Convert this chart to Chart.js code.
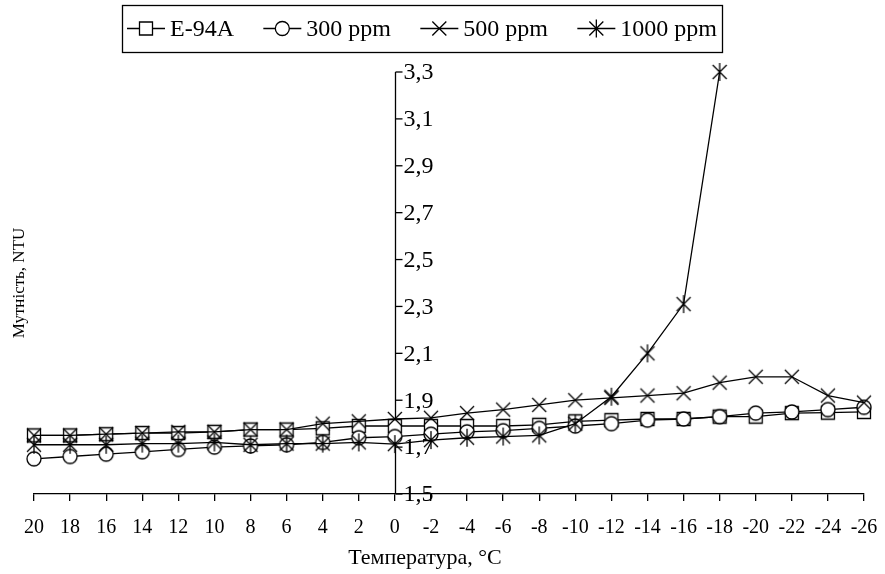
<!DOCTYPE html>
<html><head><meta charset="utf-8">
<script src="https://cdn.jsdelivr.net/npm/chart.js@4.4.1/dist/chart.umd.min.js"></script>
<style>html,body{margin:0;padding:0;background:#fff}#wrap{width:885px;height:574px;position:relative}</style>
</head><body><div id="wrap"><canvas id="c" width="885" height="574"></canvas></div>
<script>
const categories = ['20','18','16','14','12','10','8','6','4','2','0','-2','-4','-6','-8','-10','-12','-14','-16','-18','-20','-22','-24','-26'];
const e94a   = [1.75,1.75,1.755,1.76,1.76,1.765,1.775,1.775,1.78,1.79,1.79,1.79,1.79,1.79,1.795,1.81,1.815,1.82,1.82,1.83,1.83,1.845,1.847,1.85];
const ppm300 = [1.65,1.66,1.67,1.68,1.69,1.70,1.705,1.71,1.72,1.74,1.745,1.755,1.765,1.77,1.78,1.79,1.80,1.815,1.82,1.83,1.845,1.85,1.86,1.87];
const ppm500 = [1.75,1.75,1.755,1.76,1.765,1.765,1.775,1.775,1.80,1.81,1.82,1.825,1.845,1.86,1.88,1.90,1.91,1.92,1.93,1.975,2.0,2.0,1.92,1.89];
const ppm1000= [1.71,1.71,1.71,1.715,1.715,1.72,1.71,1.715,1.715,1.72,1.713,1.73,1.74,1.745,1.75,1.80,1.915,2.10,2.31,3.3];
const seriesNames = ['E-94A','300 ppm','500 ppm','1000 ppm'];
const yTicks = [1.5,1.7,1.9,2.1,2.3,2.5,2.7,2.9,3.1,3.3];
const xTitle = 'Температура, °C';
const yTitle = 'Мутність, NTU';
const yAxisAtCategory = '0';

const FONT = 'Liberation Serif';
const LW = 1.3;

function drawMarker(ctx, kind, x, y) {
  ctx.save();
  ctx.lineWidth = LW; ctx.strokeStyle = '#000'; ctx.fillStyle = '#fff';
  ctx.beginPath();
  if (kind === 'rect') { ctx.rect(x-6.5, y-6.5, 13, 13); ctx.fill(); ctx.stroke(); }
  else if (kind === 'circle') { ctx.arc(x, y, 7, 0, Math.PI*2); ctx.fill(); ctx.stroke(); }
  else if (kind === 'x') { ctx.moveTo(x-7,y-7); ctx.lineTo(x+7,y+7); ctx.moveTo(x+7,y-7); ctx.lineTo(x-7,y+7); ctx.stroke(); }
  else if (kind === 'star') { ctx.moveTo(x-7,y-7); ctx.lineTo(x+7,y+7); ctx.moveTo(x+7,y-7); ctx.lineTo(x-7,y+7); ctx.moveTo(x,y-9); ctx.lineTo(x,y+9); ctx.stroke(); }
  ctx.restore();
}
function markerCanvas(kind) {
  const c = document.createElement('canvas'); c.width = 22; c.height = 22;
  drawMarker(c.getContext('2d'), kind, 11, 11);
  return c;
}
const markerKinds = ['rect','circle','x','star'];
const markerImgs = markerKinds.map(markerCanvas);

function ds(label, data, i) {
  return {
    label, data, borderColor:'#000', borderWidth:LW, backgroundColor:'#fff',
    pointStyle: markerImgs[i], pointRadius: 9, pointHoverRadius: 9,
    tension: 0, clip: false, order: 4 - i
  };
}

const decor = {
  id: 'decor',
  beforeDatasetsDraw(chart) {
    const ctx = chart.ctx, xs = chart.scales.x, ys = chart.scales.y;
    const ax = Math.round(xs.getPixelForValue(categories.indexOf(yAxisAtCategory))) + 0.5;
    ctx.save();
    ctx.strokeStyle = '#000'; ctx.lineWidth = LW;
    ctx.beginPath();
    ctx.moveTo(ax, ys.getPixelForValue(yTicks[yTicks.length-1]));
    ctx.lineTo(ax, ys.getPixelForValue(yTicks[0]));
    ctx.stroke();
    ctx.font = '24px "' + FONT + '"'; ctx.fillStyle = '#000';
    ctx.textAlign = 'left'; ctx.textBaseline = 'middle';
    ys.ticks.forEach(t => {
      const py = ys.getPixelForValue(t.value);
      ctx.beginPath(); ctx.moveTo(ax, py); ctx.lineTo(ax + 7, py); ctx.stroke();
      ctx.fillText(t.value.toFixed(1).replace('.', ','), ax + 8, py + 1);
    });
    ctx.restore();
  },
  afterDraw(chart) {
    const ctx = chart.ctx, area = chart.chartArea;
    ctx.save();
    ctx.fillStyle = '#000';
    ctx.font = '22px "' + FONT + '"';
    ctx.textAlign = 'center'; ctx.textBaseline = 'middle';
    ctx.fillText(xTitle, 425, 558);
    ctx.translate(20, (area.top + area.bottom) / 2);
    ctx.rotate(-Math.PI / 2);
    ctx.font = '17px "' + FONT + '"';
    ctx.fillText(yTitle, 0, 0);
    ctx.restore();
    // legend
    ctx.save();
    ctx.font = '24px "' + FONT + '"';
    const boxL = 122, boxR = 722, top = 5, h = 47, cy = top + h / 2;
    const symW = 38, gapA = 5, pad = 5;
    const names = chart.data.datasets.map(d => d.label);
    let used = pad * 2;
    names.forEach(n => { used += symW + gapA + ctx.measureText(n).width; });
    const gapB = (boxR - boxL - used) / (names.length - 1);
    ctx.strokeStyle = '#000'; ctx.lineWidth = LW;
    ctx.strokeRect(boxL + 0.5, top + 0.5, boxR - boxL, h);
    let x = boxL + pad;
    ctx.textAlign = 'left'; ctx.textBaseline = 'middle'; ctx.fillStyle = '#000';
    names.forEach((n, i) => {
      ctx.beginPath(); ctx.moveTo(x, cy); ctx.lineTo(x + symW, cy); ctx.stroke();
      drawMarker(ctx, markerKinds[i], x + symW / 2, cy);
      x += symW + gapA;
      ctx.fillStyle = '#000';
      ctx.fillText(n, x, cy + 1);
      x += ctx.measureText(n).width + gapB;
    });
    ctx.restore();
  }
};

new Chart(document.getElementById('c'), {
  type: 'line',
  data: {
    labels: categories,
    datasets: [ds(seriesNames[0], e94a, 0), ds(seriesNames[1], ppm300, 1), ds(seriesNames[2], ppm500, 2), ds(seriesNames[3], ppm1000, 3)]
  },
  options: {
    responsive: false, animation: false, devicePixelRatio: 1,
    layout: { padding: { left: 34, right: 21, top: 72, bottom: 0 } },
    plugins: { legend: { display: false }, tooltip: { enabled: false } },
    scales: {
      x: {
        type: 'category', offset: false,
        border: { display: true, color: '#000', width: LW },
        grid: { display: true, drawOnChartArea: false, drawTicks: true, tickLength: 7, color: '#000', lineWidth: LW, offset: false },
        ticks: { color: '#000', font: { family: FONT, size: 20 }, padding: 15, maxRotation: 0, autoSkip: false },
        afterFit(s) { s.height = 80; s.paddingLeft = 0; s.paddingRight = 0; }
      },
      y: {
        type: 'linear', min: yTicks[0], max: yTicks[yTicks.length-1],
        border: { display: false }, grid: { display: false },
        ticks: { display: false },
        afterBuildTicks(s) { s.ticks = yTicks.map(v => ({ value: v })); },
        afterFit(s) { s.width = 0; }
      }
    }
  },
  plugins: [decor]
});
</script></body></html>
